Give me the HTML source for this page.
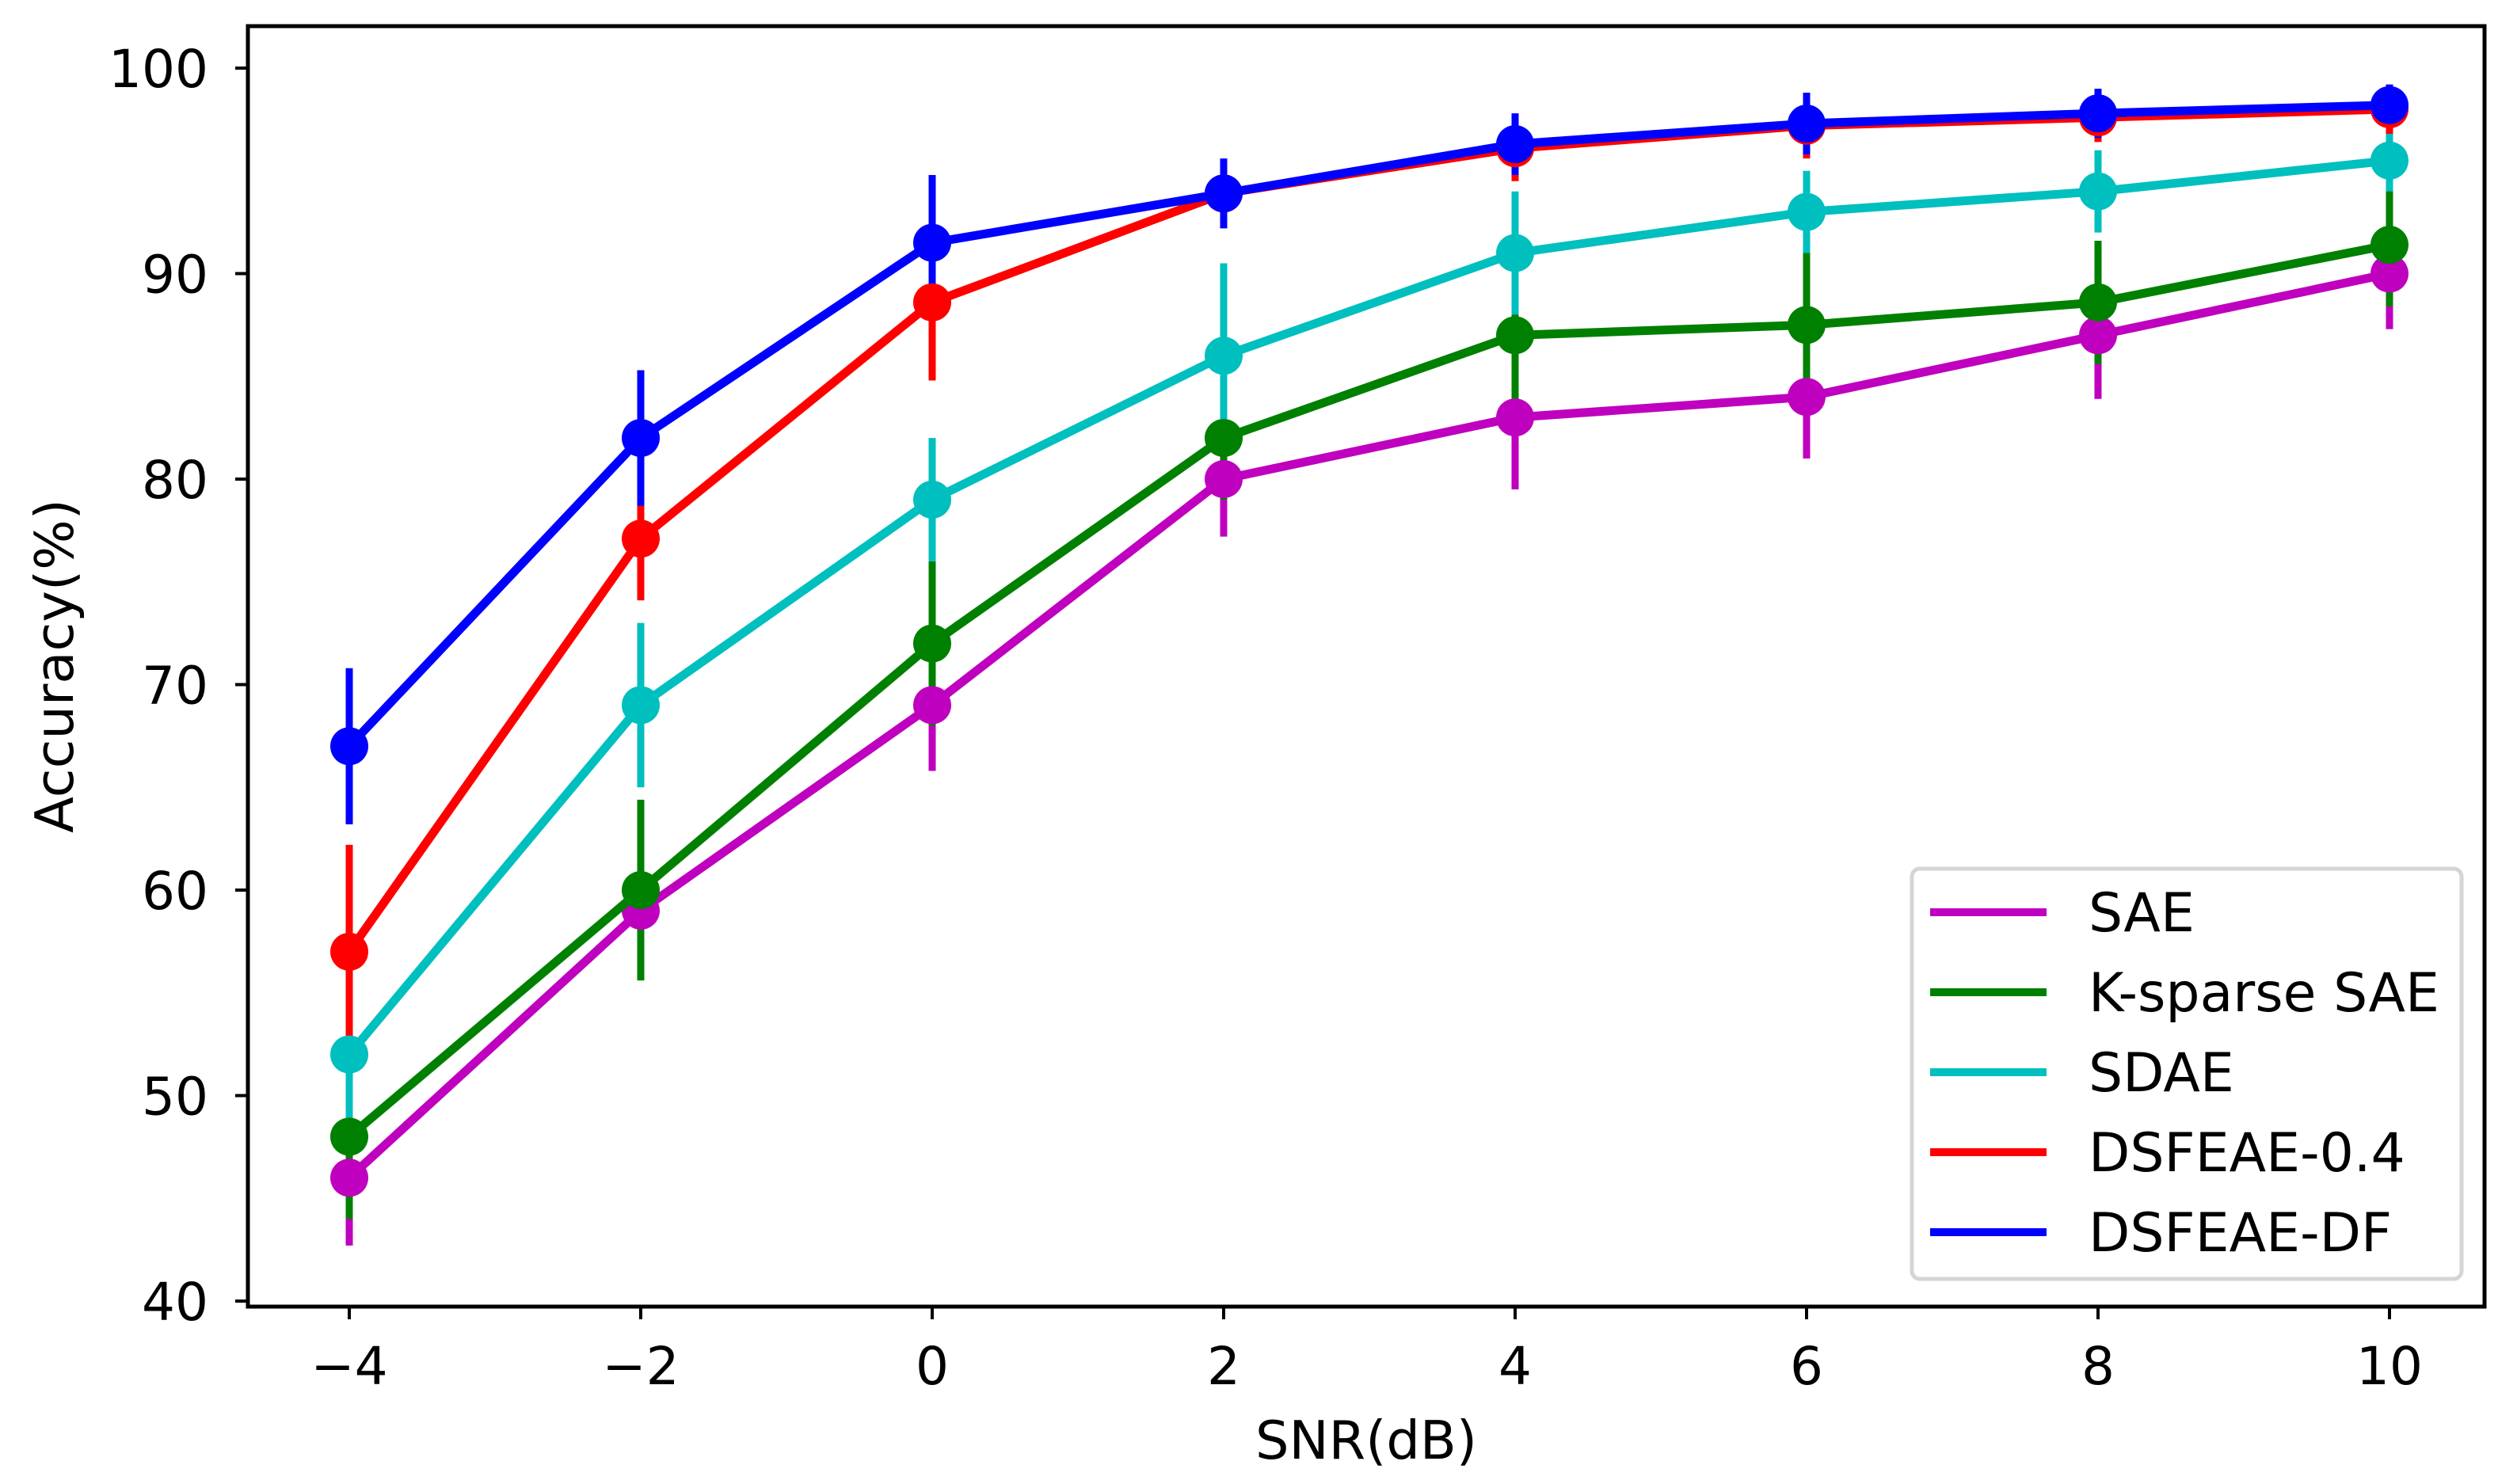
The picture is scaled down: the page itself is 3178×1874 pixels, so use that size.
<!DOCTYPE html>
<html><head><meta charset="utf-8"><style>
html,body{margin:0;padding:0;background:#fff;}
svg{display:block;font-family:"DejaVu Sans","Liberation Sans",sans-serif;}
</style></head><body>
<svg id="chart" width="3178" height="1874" viewBox="0 0 3178 1874" xmlns="http://www.w3.org/2000/svg">
<rect x="0" y="0" width="3178" height="1874" fill="#fff"/>
<g id="bars"></g>
<g id="series"></g>
<g id="axes"></g>
<g id="legend"></g>
<text x="1725" y="1842" font-size="67" text-anchor="middle">SNR(dB)</text>
<text transform="translate(92,841) rotate(-90)" font-size="67" text-anchor="middle">Accuracy(%)</text>
</svg>
<script>
const snr = [-4, -2, 0, 2, 4, 6, 8, 10];
const seriesNames = ["SAE", "K-sparse SAE", "SDAE", "DSFEAE-0.4", "DSFEAE-DF"];
const seriesColors = ["#bf00bf", "#008000", "#00bfbf", "#ff0000", "#0000ff"];
const saeVals = [46, 59, 69, 80, 83, 84, 87, 90];
const saeErr = [3.3, 3, 3.2, 2.8, 3.5, 3, 3.1, 2.7];
const ksparseVals = [48, 60, 72, 82, 87, 87.5, 88.6, 91.4];
const ksparseErr = [4, 4.4, 4, 3, 4.5, 3.5, 3, 3];
const sdaeVals = [52, 69, 79, 86, 91, 93, 94, 95.5];
const sdaeErr = [3.5, 4, 3, 4.5, 3, 2, 2, 1.5];
const dsfeae04Vals = [57, 77.1, 88.6, 93.9, 96.1, 97.2, 97.6, 98];
const dsfeae04Err = [5.2, 3, 3.8, 1.5, 1.6, 1.6, 1.2, 1.2];
const dsfeaeDFVals = [67, 82, 91.5, 93.9, 96.3, 97.3, 97.8, 98.2];
const dsfeaeDFErr = [3.8, 3.3, 3.3, 1.7, 1.5, 1.5, 1.2, 1];
const yTicks = [40, 50, 60, 70, 80, 90, 100];
const xTicks = [-4, -2, 0, 2, 4, 6, 8, 10];

const NS = "http://www.w3.org/2000/svg";
const X0 = 441, XPER = 184;
const Y40 = 1643, YPER = 25.95;
function xs(v){ return X0 + (v + 4) * XPER; }
function ys(v){ return Y40 - (v - 40) * YPER; }
function mk(tag, attrs, parent){
  const e = document.createElementNS(NS, tag);
  for (const k in attrs) e.setAttribute(k, attrs[k]);
  parent.appendChild(e);
  return e;
}
const allVals = [saeVals, ksparseVals, sdaeVals, dsfeae04Vals, dsfeaeDFVals];
const allErr = [saeErr, ksparseErr, sdaeErr, dsfeae04Err, dsfeaeDFErr];
const barsG = document.getElementById('bars');
const serG = document.getElementById('series');
const axG = document.getElementById('axes');
const legG = document.getElementById('legend');

allVals.forEach((vals, si) => {
  vals.forEach((v, i) => {
    const b = mk('line', {x1: xs(snr[i]), x2: xs(snr[i]), y1: ys(v - allErr[si][i]), y2: ys(v + allErr[si][i]), stroke: seriesColors[si], 'stroke-width': 9}, barsG);
    
    
  });
});
allVals.forEach((vals, si) => {
  const g = mk('g', {}, serG);
  
  
  const pts = vals.map((v, i) => xs(snr[i]) + ',' + ys(v)).join(' ');
  const pl = mk('polyline', {points: pts, fill: 'none', stroke: seriesColors[si], 'stroke-width': 11, 'stroke-linejoin': 'round'}, g);
  
  
  vals.forEach((v, i) => {
    const c = mk('circle', {cx: xs(snr[i]), cy: ys(v), r: 24, fill: seriesColors[si]}, g);
    
    
  });
});
const frame = mk('rect', {x: 313, y: 33, width: 2824, height: 1617, fill: 'none', stroke: '#000', 'stroke-width': 5}, axG);


yTicks.forEach(t => {
  const tl = mk('line', {x1: 297, x2: 313, y1: ys(t), y2: ys(t), stroke: '#000', 'stroke-width': 4}, axG);
  
  
  const tx = mk('text', {x: 263, y: ys(t) + 24, 'font-size': 66, 'text-anchor': 'end'}, axG);
  tx.textContent = String(t);
  
  
});
xTicks.forEach(t => {
  const tl = mk('line', {x1: xs(t), x2: xs(t), y1: 1650, y2: 1666, stroke: '#000', 'stroke-width': 4}, axG);
  
  
  const tx = mk('text', {x: xs(t), y: 1748, 'font-size': 66, 'text-anchor': 'middle'}, axG);
  tx.textContent = t < 0 ? '\u2212' + Math.abs(t) : String(t);
  
  
});
const box = mk('rect', {x: 2414, y: 1097, width: 694, height: 518, rx: 10, fill: '#fff', stroke: '#d5d5d5', 'stroke-width': 5}, legG);


seriesNames.forEach((n, i) => {
  const y = 1152 + i * 101;
  const g = mk('g', {}, legG);
  
  
  mk('line', {x1: 2437, x2: 2584, y1: y, y2: y, stroke: seriesColors[i], 'stroke-width': 10}, g);
  const t = mk('text', {x: 2637, y: y + 24, 'font-size': 68}, g);
  t.textContent = n;
});
</script>
</body></html>
